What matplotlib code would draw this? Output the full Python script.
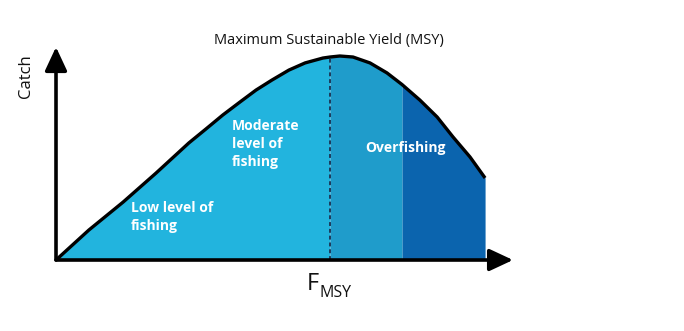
import matplotlib.pyplot as plt
from matplotlib.patches import FancyArrowPatch

plt.rcParams['font.family'] = ['Open Sans', 'DejaVu Sans']

# fishing mortality (F, F_MSY = 1) and catch (MSY = 1)
F = [0.0, 0.120, 0.245, 0.365, 0.485, 0.547, 0.609, 0.672, 0.730, 0.788,
     0.850, 0.909, 0.974, 1.0, 1.036, 1.084, 1.146, 1.208, 1.263, 1.328,
     1.391, 1.449, 1.511, 1.566]
catch = [0.0, 0.147, 0.284, 0.426, 0.574, 0.642, 0.711, 0.775, 0.833, 0.882,
         0.931, 0.966, 0.990, 0.995, 1.0, 0.995, 0.966, 0.917, 0.860, 0.784,
         0.701, 0.603, 0.505, 0.402]
F_MSY = 1.0
F_over = 1.263
colors = ['#22b4de', '#1f9ccb', '#0b64ae']
zones = [(0.0, F_MSY), (F_MSY, F_over), (F_over, F[-1])]

fig = plt.figure(figsize=(6.84, 3.31), dpi=100)
ax = fig.add_axes([0, 0, 1, 1])
ax.set_xlim(-0.2044, 2.292)
ax.set_ylim(-0.348, 1.2745)
ax.axis('off')

for (a, b), c in zip(zones, colors):
    xs = [f for f in F if a <= f <= b]
    ys = [y for f, y in zip(F, catch) if a <= f <= b]
    ax.fill_between(xs, 0, ys, color=c, lw=0)

ax.plot(F, catch, color='black', lw=2.4, solid_capstyle='butt',
        solid_joinstyle='round', zorder=4)
ax.plot([F_MSY, F_MSY], [0, catch[F.index(F_MSY)]], color='#1b3a5c',
        lw=1.4, ls=(0, (2, 1.5)), zorder=3)

for end in [(0, 1.044), (1.668, 0)]:
    ax.add_patch(FancyArrowPatch((0, 0), end, arrowstyle='-|>,head_length=0.9,head_width=0.42',
                                 mutation_scale=16, color='black', lw=2.6,
                                 shrinkA=0, shrinkB=0, zorder=5))

ax.text(0.997, 1.075, 'Maximum Sustainable Yield (MSY)', ha='center', va='center',
        fontsize=10.5, color='#111111')
ax.text(-0.11, 0.9, 'Catch', rotation=90, ha='center', va='center', fontsize=12,
        color='#111111')
ax.text(0.915, -0.145, 'F', ha='left', va='baseline', fontsize=17, color='#111111')
ax.text(0.96, -0.18, 'MSY', ha='left', va='baseline', fontsize=11.5, color='#111111')

lbl = dict(color='white', fontweight='bold', fontsize=10, ha='left', va='top',
           linespacing=1.35)
ax.text(0.274, 0.29, 'Low level of\nfishing', **lbl)
ax.text(0.642, 0.69, 'Moderate\nlevel of\nfishing', **lbl)
ax.text(1.128, 0.585, 'Overfishing', **lbl)

fig.savefig('out.png', dpi=100)
